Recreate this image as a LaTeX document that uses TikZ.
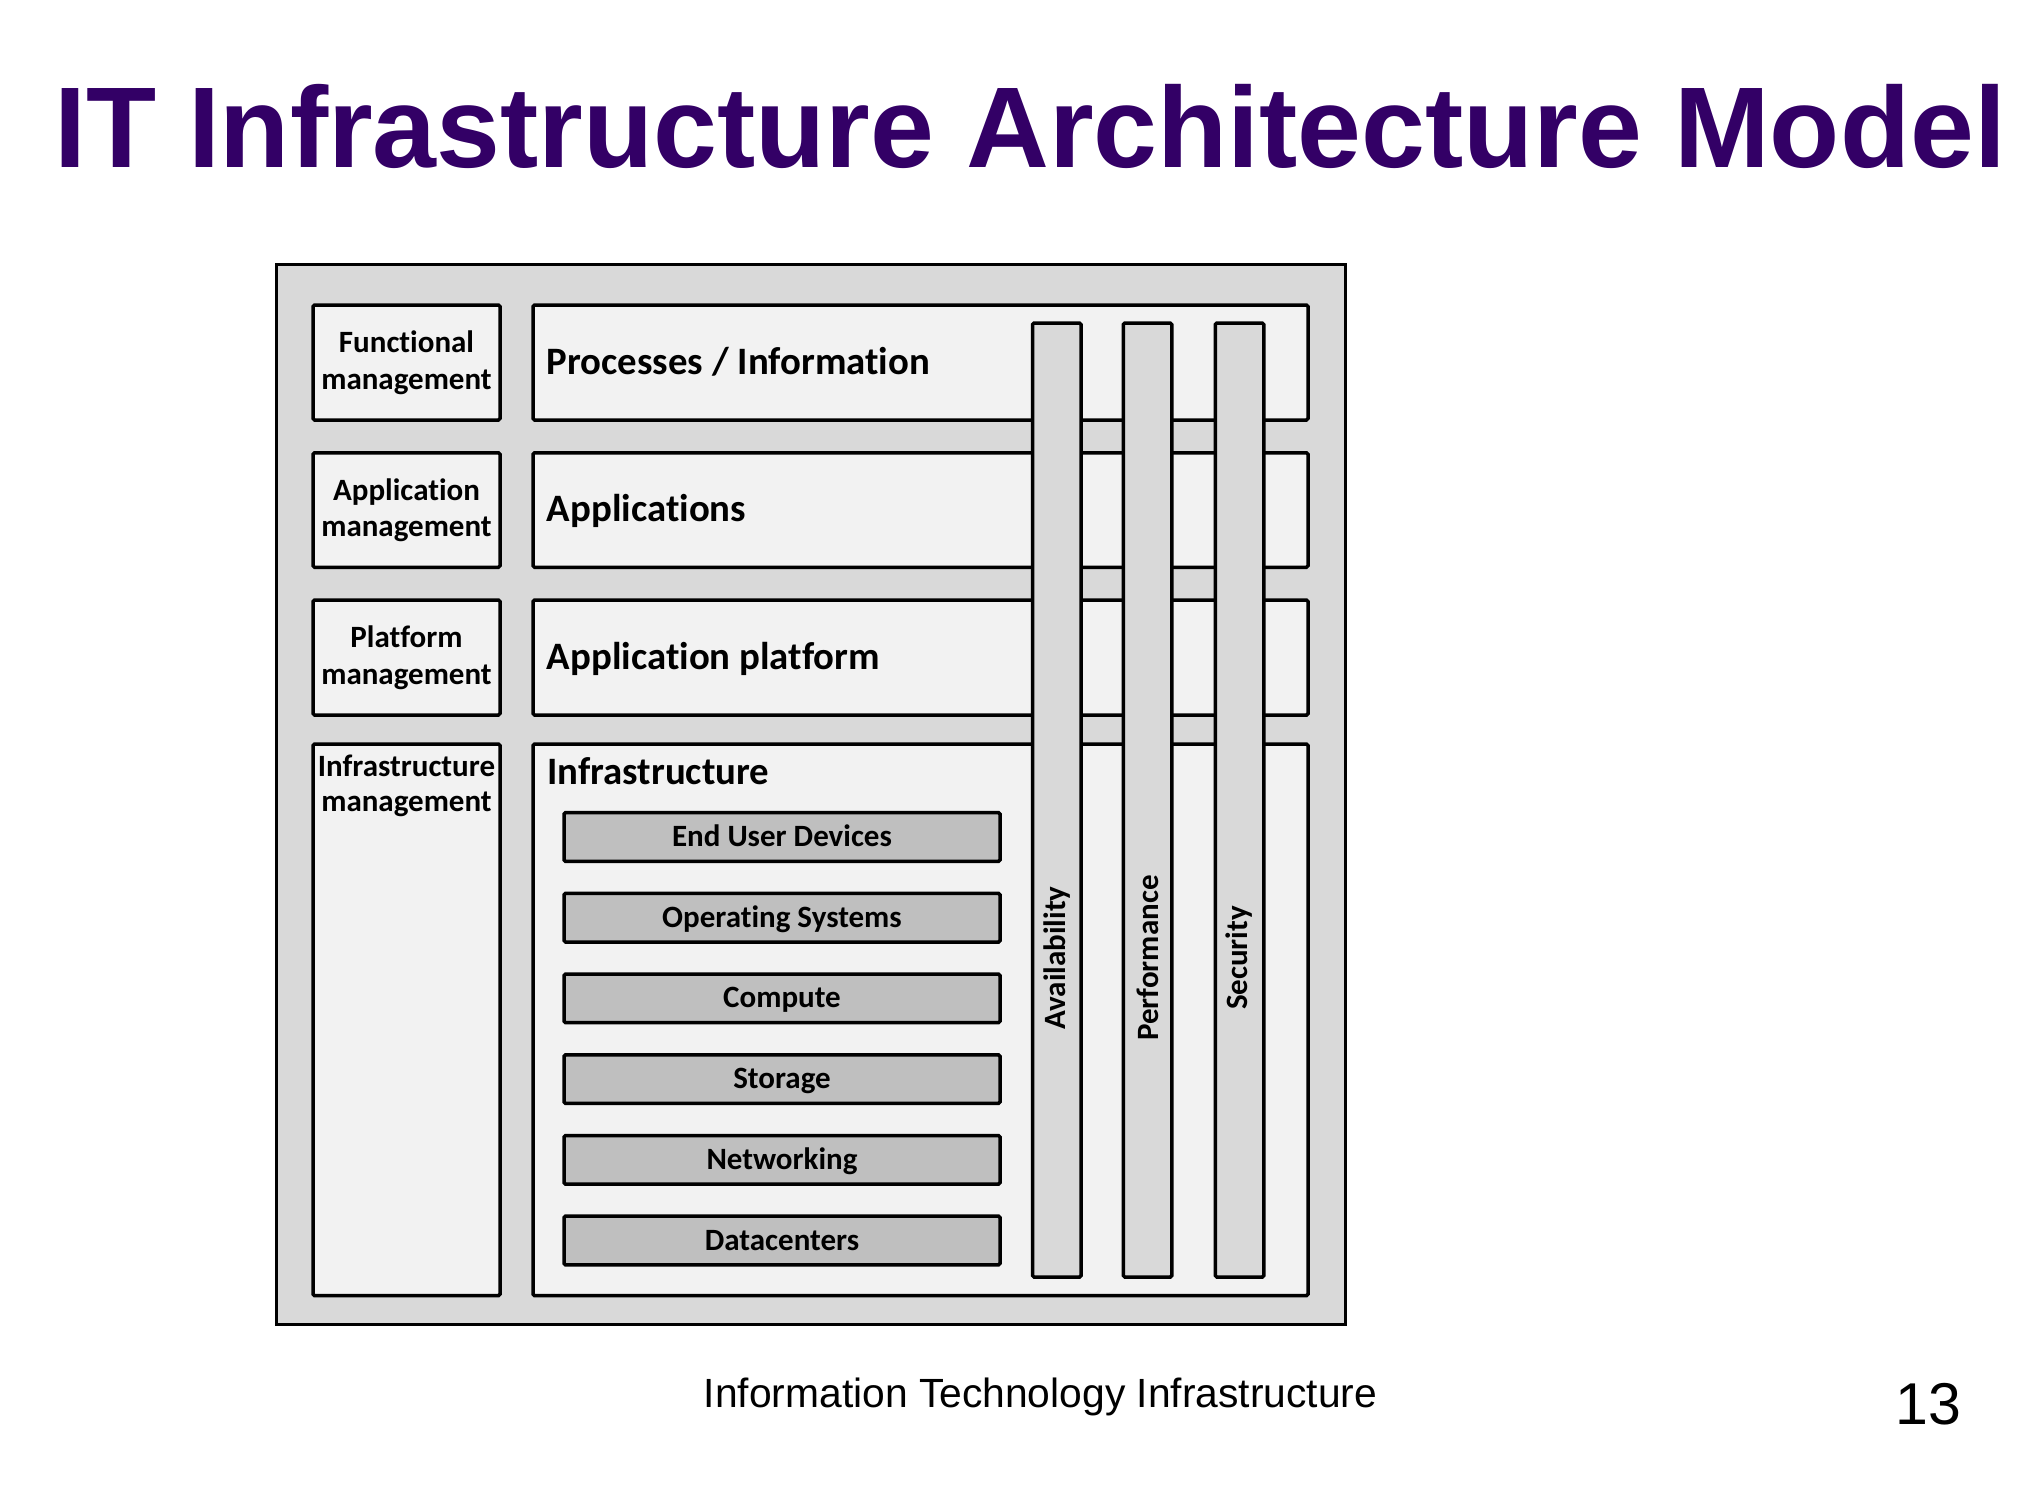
\documentclass[tikz,border=0pt]{standalone}
\usepackage{fontspec}
\setmainfont{Carlito}[Ligatures=NoCommon]
\newfontfamily\slidefont{Liberation Sans}
\usetikzlibrary{positioning}

\definecolor{titlepurple}{HTML}{330066}
\definecolor{framegray}{HTML}{D9D9D9}
\definecolor{boxgray}{HTML}{F2F2F2}
\definecolor{layergray}{HTML}{BFBFBF}

\tikzset{
  framebox/.style={draw=black, line width=3pt, fill=framegray, inner sep=0pt},
  mgmtbox/.style={draw=black, line width=3.5pt, fill=boxgray, rounded corners=1.5pt,
    minimum width=187pt, align=center, inner sep=0pt,
    font=\fontsize{31}{36.5}\selectfont\bfseries},
  layerbox/.style={draw=black, line width=3.5pt, fill=boxgray, rounded corners=1.5pt,
    minimum width=775pt, inner sep=0pt},
  layertext/.style={anchor=base west, inner sep=0pt, font=\fontsize{38.8}{44}\selectfont\bfseries},
  infrabox/.style={draw=black, line width=3.5pt, fill=layergray, rounded corners=1.5pt,
    minimum width=436pt, minimum height=48.6pt, inner sep=0pt,
    text height=21pt, text depth=2pt, font=\fontsize{31}{36}\selectfont\bfseries},
  aspectbar/.style={draw=black, line width=3.5pt, fill=framegray, rounded corners=1.5pt,
    minimum width=48.5pt, minimum height=954pt, inner sep=0pt},
  bartext/.style={rotate=90, inner sep=0pt, font=\fontsize{31}{36}\selectfont\bfseries}
}

\begin{document}
\begin{tikzpicture}[x=1pt, y=-1pt]
    \useasboundingbox[fill=white] (0,0) rectangle (2030,1484);

    % Slide title
    \node[anchor=base west, inner sep=0pt, text=titlepurple,
      font=\slidefont\fontsize{114.8}{130}\selectfont\bfseries] (title) at (54,167)
      {IT Infrastructure Architecture Model};

    % Outer frame
    \node[framebox, minimum width=1069pt, minimum height=1060pt] (frame) at (810.5,794.5) {};

    % Management column
    \node[mgmtbox, minimum height=115pt] (funcmgmt) at (406.5,362.5) {Functional\\management};
    \node[mgmtbox, minimum height=114.5pt] (appmgmt) at (406.5,510) {Application\\management};
    \node[mgmtbox, minimum height=115pt] (platmgmt) at (406.5,657.5) {Platform\\management};
    \node[mgmtbox, minimum height=551.6pt] (infmgmt) at (406.5,1019.8) {};
    \node[below=12pt of infmgmt.north, inner sep=0pt, align=center,
      font=\fontsize{31}{35.5}\selectfont\bfseries] (infmgmtlbl) {Infrastructure\\management};

    % Layers
    \node[layerbox, minimum height=115pt] (proc) at (920.5,362.5) {};
    \node[layerbox, minimum height=114.5pt] (apps) at (920.5,510) {};
    \node[layerbox, minimum height=115pt] (platform) at (920.5,657.5) {};
    \node[layerbox, minimum height=551.6pt] (infra) at (920.5,1019.8) {};

    \node[layertext] (proclbl) at ([xshift=15.5pt, yshift=-11.5pt]proc.west) {Processes / Information};
    \node[layertext] (appslbl) at ([xshift=15.5pt, yshift=-11.5pt]apps.west) {Applications};
    \node[layertext] (platformlbl) at ([xshift=15.5pt, yshift=-11.5pt]platform.west) {Application platform};
    \node[layertext] (infralbl) at ([xshift=16pt, yshift=-42pt]infra.north west) {Infrastructure};

    % Infrastructure building blocks
    \node[infrabox] (devices) at (782,837) {End User Devices};
    \node[infrabox] (os) at (782,917.7) {Operating Systems};
    \node[infrabox] (compute) at (782,998.4) {Compute};
    \node[infrabox] (storage) at (782,1079.1) {Storage};
    \node[infrabox] (network) at (782,1159.8) {Networking};
    \node[infrabox] (dc) at (782,1240.5) {Datacenters};

    % Non-functional attributes
    \node[aspectbar] (avail) at (1056.75,800) {};
    \node[aspectbar] (perf) at (1147.5,800) {};
    \node[aspectbar] (secur) at (1239.5,800) {};

    \node[bartext] (availlbl) at ([yshift=-158pt]avail.center) {Availability};
    \node[bartext] (perflbl) at ([yshift=-158pt]perf.center) {Performance};
    \node[bartext] (securlbl) at ([yshift=-158pt]secur.center) {Security};

    % Footer
    \node[anchor=base west, inner sep=0pt, font=\slidefont\fontsize{40.8}{48}\selectfont] (footer)
      at (703.5,1407) {Information Technology Infrastructure};
    \node[anchor=base east, inner sep=0pt, font=\slidefont\fontsize{59}{70}\selectfont] (pagenum)
      at (1961.5,1424) {13};
\end{tikzpicture}
\end{document}
